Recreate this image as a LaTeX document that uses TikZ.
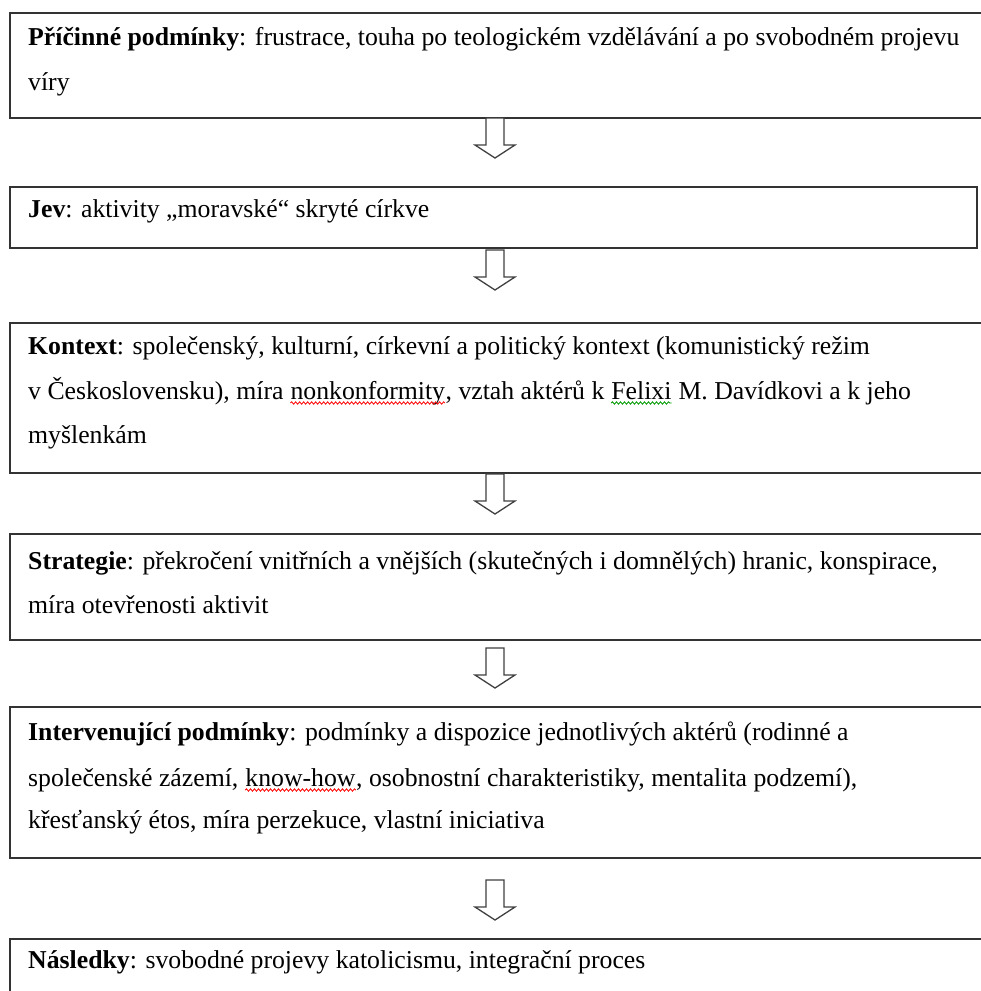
\documentclass[tikz,border=0pt]{standalone}
\usepackage{fontspec}
\setmainfont{Liberation Serif}
\usetikzlibrary{decorations.pathmorphing}
\newcommand\squig[2]{\tikz[baseline=(w.base)]{\node[inner sep=0pt,anchor=base](w){#2};\draw[#1,line width=0.8pt,decorate,decoration={snake,amplitude=1.2pt,segment length=4pt}]([yshift=-4pt]w.base west)--([yshift=-4pt]w.base east);}}
\begin{document}
\begin{tikzpicture}[x=1pt,y=-1pt,
  box/.style={draw=black!80, line width=1.6pt, anchor=north west, inner sep=0pt, fill=none},
  txt/.style={anchor=base west, inner sep=0pt, font=\fontsize{25.75}{30}\selectfont},
  arrowline/.style={draw=black!75, line width=1.3pt, fill=white},
  darrow/.pic={\path[arrowline] (-9,0) -- (-9,27) -- (-20,27) -- (0,40) -- (20,27) -- (9,27) -- (9,0) -- cycle;}]
\clip (0,0) rectangle (981,991);
\fill[white] (0,0) rectangle (981,991);
% boxes
\node[box, minimum width=990, minimum height=105] (b1) at (9,12) {};
\node[box, minimum width=967, minimum height=61] (b2) at (9,186) {};
\node[box, minimum width=990, minimum height=150] (b3) at (9,322) {};
\node[box, minimum width=990, minimum height=106] (b4) at (9,533) {};
\node[box, minimum width=990, minimum height=151] (b5) at (9,706) {};
\node[box, minimum width=990, minimum height=100] (b6) at (9,938) {};
% texts
\node[txt] (t1a) at (28,45) {\textbf{Příčinné podmínky}: frustrace, touha po teologickém vzdělávání a po svobodném projevu};
\node[txt] (t1b) at (28,90) {víry};
\node[txt] (t2a) at (28,217) {\textbf{Jev}: aktivity „moravské“ skryté církve};
\node[txt] (t3a) at (28,354) {\textbf{Kontext}: společenský, kulturní, církevní a politický kontext (komunistický režim};
\node[txt] (t3b) at (28,399) {v Československu), míra \squig{red}{nonkonformity}, vztah aktérů k \squig{green!60!black}{Felixi} M. Davídkovi a k jeho};
\node[txt] (t3c) at (28,443) {myšlenkám};
\node[txt] (t4a) at (28,569) {\textbf{Strategie}: překročení vnitřních a vnějších (skutečných i domnělých) hranic, konspirace,};
\node[txt] (t4b) at (28,613) {míra otevřenosti aktivit};
\node[txt] (t5a) at (28,740) {\textbf{Intervenující podmínky}: podmínky a dispozice jednotlivých aktérů (rodinné a};
\node[txt] (t5b) at (28,786) {společenské zázemí, \squig{red}{know-how}, osobnostní charakteristiky, mentalita podzemí),};
\node[txt] (t5c) at (28,828) {křesťanský étos, míra perzekuce, vlastní iniciativa};
\node[txt] (t6a) at (28,968) {\textbf{Následky}: svobodné projevy katolicismu, integrační proces};
% arrows
\coordinate (a1) at (495,118);
\coordinate (a2) at (495,250);
\coordinate (a3) at (495,474);
\coordinate (a4) at (495,648);
\coordinate (a5) at (495,880);
\pic at (a1) {darrow};
\pic at (a2) {darrow};
\pic at (a3) {darrow};
\pic at (a4) {darrow};
\pic at (a5) {darrow};
\end{tikzpicture}
\end{document}
